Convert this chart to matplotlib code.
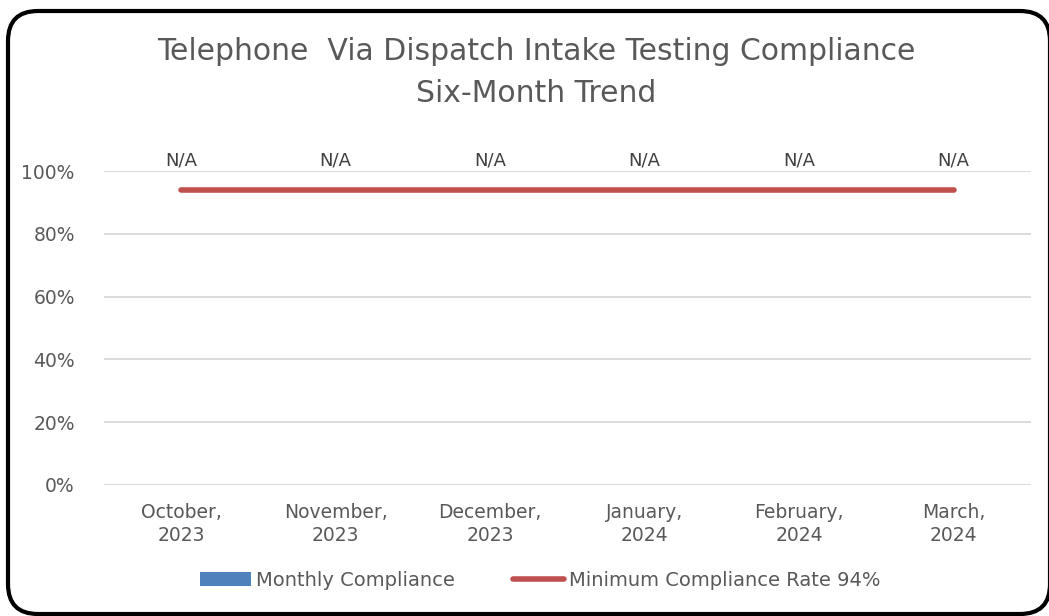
import numpy as np
import matplotlib
matplotlib.use("Agg")
from matplotlib import pyplot as plt
from matplotlib.patches import FancyBboxPatch, Patch
from matplotlib.lines import Line2D

months = ["October,\n2023", "November,\n2023", "December,\n2023",
          "January,\n2024", "February,\n2024", "March,\n2024"]
monthly = [0, 0, 0, 0, 0, 0]
bar_labels = ["N/A", "N/A", "N/A", "N/A", "N/A", "N/A"]
minimum = [0.94, 0.94, 0.94, 0.94, 0.94, 0.94]

plt.rcParams['font.family'] = ['DejaVu Sans']
grey = '#595959'

fig = plt.figure(figsize=(10.49, 6.16), dpi=100)
ax = fig.add_axes([0.0991, 0.2127, 0.8837, 0.5097])

x = np.arange(len(months))
ax.bar(x, monthly, width=0.55, color='#4F81BD', zorder=2)
ax.plot(x, minimum, color='#C0504D', linewidth=4, solid_capstyle='round', zorder=3)
for xi, lab in zip(x, bar_labels):
    ax.annotate(lab, (xi, 1.0), xytext=(0, 1), textcoords='offset points',
                ha='center', va='bottom', fontsize=13, color='#404040',
                annotation_clip=False)

ax.set_xlim(-0.5, len(months) - 0.5)
ax.set_ylim(0, 1)
ax.set_yticks(np.arange(0, 1.01, 0.2))
ax.set_yticklabels(['0%', '20%', '40%', '60%', '80%', '100%'])
ax.yaxis.grid(True, color='#d9d9d9', linewidth=1.3, zorder=0)
ax.set_axisbelow(True)
ax.set_xticks(x)
ax.set_xticklabels(months, linespacing=1.25)
ax.tick_params(axis='both', length=0, labelsize=13.5, labelcolor=grey)
ax.tick_params(axis='y', pad=21)
ax.tick_params(axis='x', pad=13)
for s in ax.spines.values():
    s.set_visible(False)

fig.text(0.511, 0.916, "Telephone  Via Dispatch Intake Testing Compliance",
         ha='center', va='center', fontsize=21.5, color=grey)
fig.text(0.511, 0.849, "Six-Month Trend",
         ha='center', va='center', fontsize=21.5, color=grey)

handles = [Patch(facecolor='#4F81BD', edgecolor='none'),
           Line2D([0], [0], color='#C0504D', linewidth=4, solid_capstyle='round')]
fig.legend(handles, ["Monthly Compliance", "Minimum Compliance Rate 94%"],
           loc='center', bbox_to_anchor=(0.515, 0.058), ncol=2, frameon=False,
           fontsize=14, labelcolor=grey, handlelength=2.6, handletextpad=0.25,
           columnspacing=3.0)

# rounded frame, in inches (30 px corner radius)
border = FancyBboxPatch((0.08, 0.02), 10.42, 6.03,
                        boxstyle="round,pad=0,rounding_size=0.3",
                        transform=fig.dpi_scale_trans, fill=False,
                        edgecolor='black', linewidth=3)
fig.patches.append(border)

plt.savefig("out.png", dpi=100)
